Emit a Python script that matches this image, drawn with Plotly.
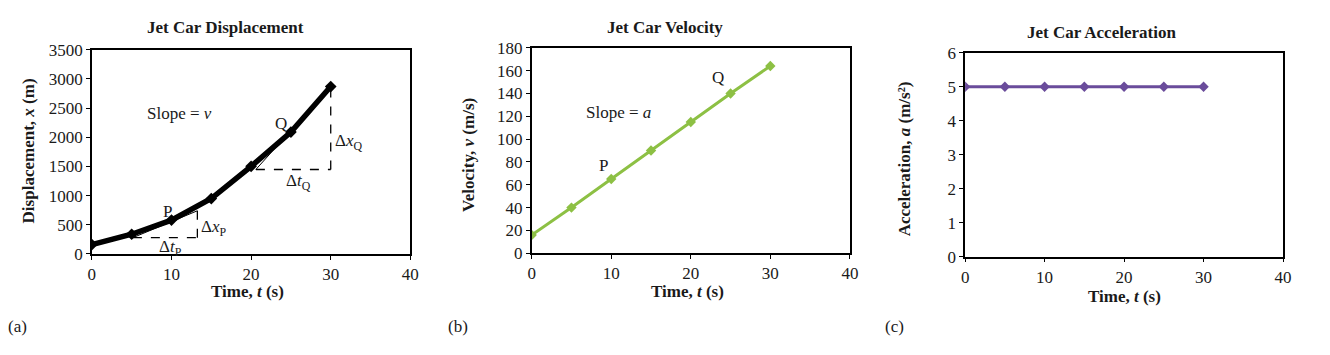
import plotly.graph_objects as go

# ---- data ----
time_s = [0, 5, 10, 15, 20, 25, 30]
displacement_m = [160, 338, 580, 950, 1503, 2090, 2870]
velocity_ms = [16, 40, 65, 90, 115, 140, 164]
acceleration_ms2 = [5, 5, 5, 5, 5, 5, 5]

# tangent / triangle construction points (panel a)
p_tan_t = [5.15, 13.25]
p_tan_x = [279, 740]
q_tan_t = [20.6, 30]
q_tan_x = [1448, 2870]

x_ticks = [0, 10, 20, 30, 40]
disp_ticks = [0, 500, 1000, 1500, 2000, 2500, 3000, 3500]
vel_ticks = [0, 20, 40, 60, 80, 100, 120, 140, 160, 180]
acc_ticks = [0, 1, 2, 3, 4, 5, 6]

BLACK = "#000000"
GREEN = "#8DC044"
PURPLE = "#6A4C9B"
TXT = "#1a1a1a"
FONT = "Liberation Serif, Times New Roman, serif"
FS = 17

W, H = 1330, 355

# calibration of the photographed page (screen = A + B * page)
AX, BX = 2.8, 0.9906
AY, BY = 8.4, 0.949


def px(x):
    r = (x - AX) / BX
    return r / W


def py(y):
    r = (y - AY) / BY
    return 1 - r / H


fig = go.Figure()

dash_line = dict(color=BLACK, width=1.3, dash="dash")

# Panel a
fig.add_trace(go.Scatter(x=p_tan_t, y=[p_tan_x[0], p_tan_x[0]], mode="lines",
                         line=dash_line, xaxis="x", yaxis="y", showlegend=False))
fig.add_trace(go.Scatter(x=[p_tan_t[1], p_tan_t[1]], y=p_tan_x, mode="lines",
                         line=dash_line, xaxis="x", yaxis="y", showlegend=False))
fig.add_trace(go.Scatter(x=p_tan_t, y=p_tan_x, mode="lines",
                         line=dict(color=BLACK, width=1), xaxis="x", yaxis="y", showlegend=False))
fig.add_trace(go.Scatter(x=q_tan_t, y=[q_tan_x[0], q_tan_x[0]], mode="lines",
                         line=dash_line, xaxis="x", yaxis="y", showlegend=False))
fig.add_trace(go.Scatter(x=[q_tan_t[1], q_tan_t[1]], y=q_tan_x, mode="lines",
                         line=dash_line, xaxis="x", yaxis="y", showlegend=False))
fig.add_trace(go.Scatter(x=q_tan_t, y=q_tan_x, mode="lines",
                         line=dict(color=BLACK, width=1), xaxis="x", yaxis="y", showlegend=False))
fig.add_trace(go.Scatter(x=time_s, y=displacement_m, mode="lines+markers",
                         line=dict(color=BLACK, width=5.5),
                         marker=dict(symbol="diamond", size=9, color=BLACK),
                         xaxis="x", yaxis="y", showlegend=False))

# Panel b
fig.add_trace(go.Scatter(x=time_s, y=velocity_ms, mode="lines+markers",
                         line=dict(color=GREEN, width=3),
                         marker=dict(symbol="diamond", size=8, color=GREEN),
                         xaxis="x2", yaxis="y2", showlegend=False))

# Panel c
fig.add_trace(go.Scatter(x=time_s, y=acceleration_ms2, mode="lines+markers",
                         line=dict(color=PURPLE, width=3),
                         marker=dict(symbol="diamond", size=8, color=PURPLE),
                         xaxis="x3", yaxis="y3", showlegend=False))

axis_common = dict(showgrid=False, zeroline=False, showline=True, linecolor=BLACK, linewidth=1.5,
                   mirror=True, ticks="outside", ticklen=4, tickcolor=BLACK, tickwidth=1,
                   tickfont=dict(family=FONT, size=FS, color=TXT))

fig.update_layout(
    width=W, height=H,
    margin=dict(l=0, r=0, t=0, b=0),
    paper_bgcolor="white", plot_bgcolor="white",
    font=dict(family=FONT, size=FS, color=TXT),
    xaxis=dict(domain=[px(90.7), px(409.3)], range=[0, 40], tickvals=x_ticks, anchor="y", **axis_common),
    yaxis=dict(domain=[py(254), py(49.3)], range=[0, 3500], tickvals=disp_ticks, anchor="x", **axis_common),
    xaxis2=dict(domain=[px(530.7), px(849)], range=[0, 40], tickvals=x_ticks, anchor="y2", **axis_common),
    yaxis2=dict(domain=[py(253.3), py(47.3)], range=[0, 180], tickvals=vel_ticks, anchor="x2", **axis_common),
    xaxis3=dict(domain=[px(964.3), px(1282.3)], range=[0, 40], tickvals=x_ticks, anchor="y3", **axis_common),
    yaxis3=dict(domain=[py(256.7), py(52.3)], range=[0, 6], tickvals=acc_ticks, anchor="x3", **axis_common),
)

ann = []


def paper_text(text, x, y, size=FS, angle=0, xanchor="center"):
    ann.append(dict(text=text, x=px(x), y=py(y), xref="paper", yref="paper", showarrow=False,
                    font=dict(family=FONT, size=size, color=TXT), textangle=angle,
                    xanchor=xanchor, yanchor="middle"))


def data_text(text, x, y, xr, yr, xanchor="center", size=FS):
    ann.append(dict(text=text, x=x, y=y, xref=xr, yref=yr, showarrow=False,
                    font=dict(family=FONT, size=size, color=TXT),
                    xanchor=xanchor, yanchor="middle"))


# titles
paper_text("<b>Jet Car Displacement</b>", 224, 27)
paper_text("<b>Jet Car Velocity</b>", 664, 27)
paper_text("<b>Jet Car Acceleration</b>", 1101, 32)

# x axis titles
paper_text("<b>Time, <i>t</i> (s)</b>", 246.7, 292)
paper_text("<b>Time, <i>t</i> (s)</b>", 686.7, 292)
paper_text("<b>Time, <i>t</i> (s)</b>", 1123.3, 297)

# y axis titles
paper_text("<b>Displacement, <i>x</i> (m)</b>", 27, 151, angle=-90)
paper_text("<b>Velocity, <i>v</i> (m/s)</b>", 466.7, 155, angle=-90)
paper_text("<b>Acceleration, <i>a</i> (m/s²)</b>", 903.3, 159, angle=-90)

# panel labels
paper_text("(a)", 5, 327, xanchor="left")
paper_text("(b)", 445, 327, xanchor="left")
paper_text("(c)", 882, 327, xanchor="left")

# panel a annotations
data_text("Slope = <i>v</i>", 10.96, 2411, "x", "y")
data_text("Q", 23.77, 2240, "x", "y")
data_text("P", 9.45, 735, "x", "y")
data_text("Δ<i>x</i><sub>P</sub>", 13.4, 445, "x", "y", xanchor="left")
data_text("Δ<i>t</i><sub>P</sub>", 9.9, 110, "x", "y")
data_text("Δ<i>x</i><sub>Q</sub>", 30.3, 1915, "x", "y", xanchor="left")
data_text("Δ<i>t</i><sub>Q</sub>", 25.9, 1225, "x", "y")

# panel b annotations
data_text("Slope = <i>a</i>", 10.9, 123.7, "x2", "y2")
data_text("P", 9.0, 77, "x2", "y2")
data_text("Q", 23.45, 153.8, "x2", "y2")

fig.update_layout(annotations=ann)

fig.write_html("out.html", config={"displayModeBar": False},
               post_script="document.body.style.margin='0';document.body.style.overflow='hidden';")
